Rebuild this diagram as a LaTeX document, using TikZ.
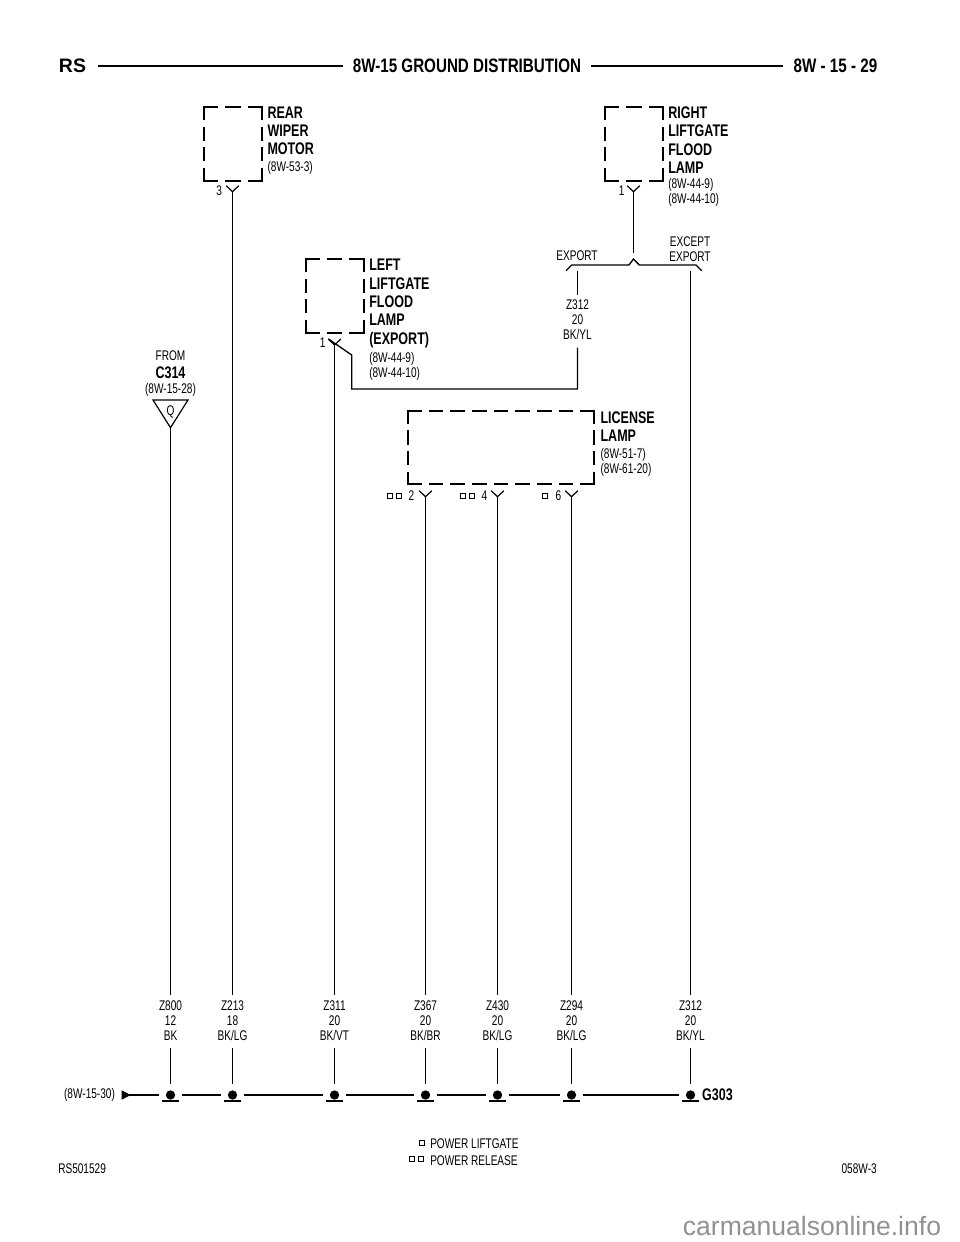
\documentclass[tikz,border=0pt]{standalone}
\usepackage{fontspec}
\setmainfont[FakeStretch=0.72,BoldFeatures={FakeStretch=0.745}]{Liberation Sans}
\newfontfamily\headfont[FakeStretch=0.78]{Liberation Sans}
\newfontfamily\widefont{Liberation Sans}
\usetikzlibrary{arrows.meta,calc,positioning}
\definecolor{markgray}{gray}{0.57}
\tikzset{
    roomsty/.style={inner sep=0pt,outer sep=0pt,rectangle},
    dashthreesty/.style={line width=1.7pt,line cap=rect,dash pattern=on 9.87pt off 6.95pt},
    dashfoursty/.style={line width=1.7pt,line cap=rect,dash pattern=on 8.85pt off 6.7pt},
    dashninesty/.style={line width=1.7pt,line cap=rect,dash pattern=on 9.37pt off 6.9pt},
    titlesty/.style={inner sep=0pt,anchor=north west,align=left,font=\bfseries\fontsize{12.6}{13.72}\selectfont},
    refsty/.style={inner sep=0pt,align=left,font=\fontsize{10.5}{11.3}\selectfont},
    smallsty/.style={inner sep=0pt,align=center,font=\fontsize{10.5}{11.25}\selectfont},
    wiresty/.style={smallsty,outer ysep=4pt,text depth=2pt,anchor=north},
    wlinesty/.style={line width=1pt},
    pinsty/.style={line width=0.9pt},
    bussty/.style={line width=1.6pt},
    gndsty/.style={circle,fill,inner sep=0pt,minimum size=7pt,outer sep=4.8pt},
    barsty/.style={line width=1.5pt},
    marksty/.style={draw,line width=0.75pt,rectangle,inner sep=0pt,minimum width=3.9pt,minimum height=3.5pt},
}
\newcommand{\boxsides}[3]{
  \draw[#2] (#1.north west) -- (#1.north east);
  \draw[#2] (#1.south west) -- (#1.south east);
  \draw[#3] (#1.north west) -- (#1.south west);
  \draw[#3] (#1.north east) -- (#1.south east);
}
\newcommand{\ypin}[3]{
  \coordinate (#1) at (#2,#3);
  \draw[pinsty] ([shift={(-4.7pt,4.5pt)}]#1) -- (#1) -- ([shift={(4.7pt,4.5pt)}]#1);
}
\newcommand{\gndwire}[4]{
  % #1 name, #2 x, #3 wire start, #4 wire text
  \node[gndsty] (g#1) at (#2,1095) {};
  \draw[barsty] ([shift={(-6.5pt,-4.3pt)}]g#1.center) -- ([shift={(6.5pt,-4.3pt)}]g#1.center);
  \node[wiresty] (w#1) at (#2,995) {#4};
  \draw[wlinesty] (#3) -- (w#1.north);
  \draw[wlinesty] (w#1.south) -- (g#1.north);
}

\begin{document}
\begin{tikzpicture}[x=0.75pt,y=-0.75pt]
  \useasboundingbox (0,0) rectangle (960,1242);

  % header
  \node[inner sep=0pt,font=\widefont\bfseries\fontsize{14.6}{16}\selectfont] (rs) at (72.5,66) {RS};
  \node[inner sep=0pt,font=\headfont\bfseries\fontsize{14.6}{16}\selectfont] (head) at (467,66) {8W-15 GROUND DISTRIBUTION};
  \node[inner sep=0pt,font=\headfont\bfseries\fontsize{14.6}{16}\selectfont] (page) at (835.5,66) {8W - 15 - 29};
  \draw[bussty] ([xshift=8.5pt]rs.east) -- ([xshift=-7.5pt]head.west);
  \draw[bussty] ([xshift=7.5pt]head.east) -- ([xshift=-8pt]page.west);

  % components
  \node[roomsty,minimum width=43.5pt,minimum height=55.5pt] (wiper) at (233,144) {};
  \boxsides{wiper}{dashthreesty}{dashfoursty}
  \node[roomsty,minimum width=43.5pt,minimum height=55.5pt] (rflood) at (634,144) {};
  \boxsides{rflood}{dashthreesty}{dashfoursty}
  \node[roomsty,minimum width=43.5pt,minimum height=55.5pt] (lflood) at (334.7,296) {};
  \boxsides{lflood}{dashthreesty}{dashfoursty}
  \node[roomsty,minimum width=139.5pt,minimum height=55pt] (lic) at (501,447.5) {};
  \boxsides{lic}{dashninesty}{dashfoursty}

  \node[titlesty] (wipertxt) at (267.3,106.5) {REAR\\WIPER\\MOTOR};
  \node[refsty,below right=4pt and 0pt of wipertxt.south west] (wiperref) {(8W-53-3)};
  \node[titlesty] (rfloodtxt) at (668,106.5) {RIGHT\\LIFTGATE\\FLOOD\\LAMP};
  \node[refsty,below right=3.5pt and 0pt of rfloodtxt.south west] (rfloodref) {(8W-44-9)\\(8W-44-10)};
  \node[titlesty] (lfloodtxt) at (369,259) {LEFT\\LIFTGATE\\FLOOD\\LAMP\\(EXPORT)};
  \node[refsty,below right=3pt and 0pt of lfloodtxt.south west] (lfloodref) {(8W-44-9)\\(8W-44-10)};
  \node[titlesty] (lictxt) at (600.3,411.5) {LICENSE\\LAMP};
  \node[refsty,below right=4.7pt and 0pt of lictxt.south west] (licref) {(8W-51-7)\\(8W-61-20)};

  % connector pins
  \ypin{pwiper}{232.5}{191.7}
  \ypin{prflood}{633.5}{191.7}
  \ypin{plflood}{334.5}{345}
  \ypin{plica}{425.5}{496.7}
  \ypin{plicb}{497.5}{496.7}
  \ypin{plicc}{571.5}{496.7}
  \node[refsty] (n3) at (219.3,190.7) {3};
  \node[refsty] (n1r) at (621.7,190.7) {1};
  \node[refsty] (n1l) at (322.7,342.7) {1};
  \node[refsty] (n2) at (411.3,495.7) {2};
  \node[refsty] (n4) at (484.3,495.7) {4};
  \node[refsty] (n6) at (558.3,495.7) {6};
  \node[marksty] (ma1) at (389.7,495.7) {};
  \node[marksty] (ma2) at (399,495.7) {};
  \node[marksty] (mb1) at (462.7,495.7) {};
  \node[marksty] (mb2) at (472,495.7) {};
  \node[marksty] (mc1) at (545.3,495.7) {};

  % from connector
  \node[smallsty] (from) at (170.5,356) {FROM};
  \node[inner sep=0pt,font=\bfseries\fontsize{12.6}{13.72}\selectfont] (c314) at (170.5,372.7) {C314};
  \node[smallsty] (fromref) at (170.5,389.5) {(8W-15-28)};
  \node[smallsty] (q) at (170.5,411.7) {Q};
  \coordinate (qleft) at (153,400);
  \coordinate (qright) at (188,400);
  \coordinate (qtip) at (170.5,427.7);
  \draw[pinsty,line join=miter] (qleft) -- (qright) -- (qtip) -- cycle;

  % splice
  \coordinate (spa) at (566,270.7);
  \coordinate (spb) at (571.7,265);
  \coordinate (spc) at (629,265);
  \coordinate (spd) at (633.5,259);
  \coordinate (spe) at (639.3,265);
  \coordinate (spf) at (696,265);
  \coordinate (spg) at (701.7,270.7);
  \coordinate (spwire) at (633.5,253.3);
  \coordinate (expa) at (577.5,270.7);
  \coordinate (expb) at (690.5,270.7);
  \draw[wlinesty] (prflood) -- (spwire);
  \draw[wlinesty] (spa) -- (spb) -- (spc) -- (spd) -- (spe) -- (spf) -- (spg);
  \node[smallsty] (lexp) at (577,256) {EXPORT};
  \node[smallsty,anchor=center] (lexc) at (690,249) {EXCEPT\\EXPORT};
  \node[wiresty] (wup) at (577.5,294.5) {Z312\\20\\BK/YL};
  \draw[wlinesty] (expa) -- (wup.north);
  \coordinate (rta) at (351.7,355);
  \coordinate (rtb) at (351.7,389);
  \coordinate (rtc) at (577.5,389);
  \coordinate (rtd) at (328.5,339);
  \draw[wlinesty] (wup.south) -- (rtc) -- (rtb) -- (rta) -- (rtd);

  % ground bus
  \gndwire{a}{170.5}{qtip}{Z800\\12\\BK}
  \gndwire{b}{232.5}{pwiper}{Z213\\18\\BK/LG}
  \gndwire{c}{334.5}{plflood}{Z311\\20\\BK/VT}
  \gndwire{d}{425.5}{plica}{Z367\\20\\BK/BR}
  \gndwire{e}{497.5}{plicb}{Z430\\20\\BK/LG}
  \gndwire{f}{571.5}{plicc}{Z294\\20\\BK/LG}
  \gndwire{g}{690.5}{expb}{Z312\\20\\BK/YL}
  \coordinate (busin) at (121.7,1095);
  \draw[bussty,{Triangle[reversed,length=6.8pt,width=6.6pt]}-] (busin) -- (ga.west);
  \draw[bussty] (ga.east) -- (gb.west);
  \draw[bussty] (gb.east) -- (gc.west);
  \draw[bussty] (gc.east) -- (gd.west);
  \draw[bussty] (gd.east) -- (ge.west);
  \draw[bussty] (ge.east) -- (gf.west);
  \draw[bussty] (gf.east) -- (gg.west);
  \node[refsty] (busref) at (89.5,1094.5) {(8W-15-30)};
  \node[inner sep=0pt,font=\bfseries\fontsize{12.6}{13.72}\selectfont] (g303) at (717.5,1095) {G303};

  % legend and footer
  \node[marksty] (leg1) at (421.7,1143.3) {};
  \node[marksty] (leg2) at (412.3,1158.7) {};
  \node[marksty] (leg3) at (421,1158.7) {};
  \node[refsty,anchor=west] (legt1) at (430,1144) {POWER LIFTGATE};
  \node[refsty,anchor=west] (legt2) at (430,1161) {POWER RELEASE};
  \node[refsty,anchor=west] (foota) at (58,1169) {RS501529};
  \node[refsty,anchor=east] (footb) at (877,1169) {058W-3};
  \node[inner sep=0pt,text=markgray,font=\widefont\fontsize{19.9}{22}\selectfont] (site) at (812,1226) {carmanualsonline.info};
\end{tikzpicture}
\end{document}
